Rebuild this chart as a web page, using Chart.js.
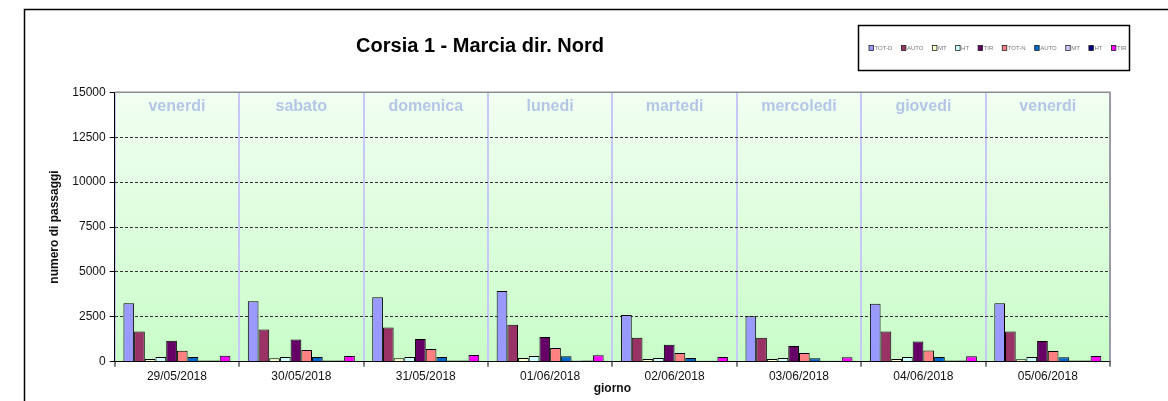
<!DOCTYPE html>
<html>

<head>
    <title>Corsia 1 - Marcia dir. Nord</title>
    <style>
        html, body { margin: 0; padding: 0; background: #fff; }
        #chart-box { width: 1168px; height: 401px; }
    </style>
</head>

<body>
    <div id="chart-box">
        <canvas id="passaggiChart" width="1168" height="401"></canvas>
    </div>

    <script src="https://cdn.jsdelivr.net/npm/chart.js"></script>
    <script type="text/javascript">
        // dates and weekday names
        const giorni = ['29/05/2018', '30/05/2018', '31/05/2018', '01/06/2018', '02/06/2018', '03/06/2018', '04/06/2018', '05/06/2018'];
        const nomiGiorni = ['venerdi', 'sabato', 'domenica', 'lunedi', 'martedi', 'mercoledi', 'giovedi', 'venerdi'];
        const yTicks = [0, 2500, 5000, 7500, 10000, 12500, 15000];

        // daytime counts
        const totD = [3260, 3370, 3590, 3930, 2600, 2530, 3220, 3260];
        const autoD = [1680, 1790, 1900, 2060, 1340, 1340, 1680, 1680];
        const mtD = [150, 190, 190, 210, 150, 150, 150, 140];
        const htD = [260, 260, 260, 320, 210, 210, 260, 260];
        const tirD = [1170, 1230, 1270, 1380, 950, 880, 1120, 1150];

        // night counts
        const totN = [610, 650, 710, 760, 490, 490, 620, 600];
        const autoN = [260, 260, 260, 300, 210, 190, 260, 250];
        const mtN = [60, 60, 60, 70, 50, 50, 60, 60];
        const htN = [60, 60, 60, 60, 50, 50, 60, 60];
        const tirN = [330, 320, 370, 360, 260, 250, 300, 320];

        const FONT = "Arial, 'Liberation Sans', sans-serif";

        function serie(label, data, color) {
            return {
                label: label,
                data: data,
                backgroundColor: color,
                borderColor: '#000',
                borderWidth: 1,
                barPercentage: 1.0,
                categoryPercentage: 0.86
            };
        }

        // background gradient, weekday names, frames, title and boxed legend
        const decorPlugin = {
            id: 'decor',
            beforeDraw(chart) {
                const { ctx, chartArea: a } = chart;
                const g = ctx.createLinearGradient(0, a.top, 0, a.bottom);
                g.addColorStop(0, '#f2fff2');
                g.addColorStop(1, '#c8fcc8');
                ctx.save();
                ctx.fillStyle = g;
                ctx.fillRect(a.left, a.top, a.right - a.left, a.bottom - a.top);
                ctx.restore();
            },
            beforeDatasetsDraw(chart) {
                const { ctx } = chart;
                const x = chart.scales.x;
                ctx.save();
                ctx.font = 'bold 16px ' + FONT;
                ctx.fillStyle = '#b4c6e6';
                ctx.textAlign = 'center';
                ctx.textBaseline = 'middle';
                nomiGiorni.forEach((n, i) => {
                    ctx.fillText(n, x.getPixelForValue(i), 107);
                });
                ctx.restore();
            },
            afterDraw(chart) {
                const { ctx, chartArea: a } = chart;
                ctx.save();
                // plot frame, top and right
                ctx.strokeStyle = '#8c8c8c';
                ctx.lineWidth = 1.5;
                ctx.beginPath();
                ctx.moveTo(a.left, a.top);
                ctx.lineTo(a.right, a.top);
                ctx.lineTo(a.right, a.bottom);
                ctx.stroke();

                // outer frame
                ctx.strokeStyle = '#000';
                ctx.lineWidth = 1.5;
                ctx.beginPath();
                ctx.moveTo(24.5, 402);
                ctx.lineTo(24.5, 9.5);
                ctx.lineTo(1170, 9.5);
                ctx.stroke();

                // title
                ctx.fillStyle = '#000';
                ctx.font = 'bold 20px ' + FONT;
                ctx.textAlign = 'center';
                ctx.textBaseline = 'middle';
                ctx.fillText('Corsia 1 - Marcia dir. Nord', 480, 46);

                // legend box
                ctx.fillStyle = '#fff';
                ctx.fillRect(859, 26, 270, 44);
                ctx.strokeStyle = '#000';
                ctx.lineWidth = 1.5;
                ctx.strokeRect(858.5, 25.5, 271, 45);

                ctx.font = '6px ' + FONT;
                ctx.textAlign = 'left';
                let lx = 869;
                chart.data.datasets.forEach(ds => {
                    ctx.fillStyle = ds.backgroundColor;
                    ctx.fillRect(lx, 45.5, 4.5, 5);
                    ctx.strokeStyle = '#222';
                    ctx.lineWidth = 0.8;
                    ctx.strokeRect(lx, 45.5, 4.5, 5);
                    ctx.fillStyle = '#777';
                    ctx.fillText(ds.label, lx + 5.5, 48.3);
                    lx += 5.5 + ctx.measureText(ds.label).width + 9;
                });
                ctx.restore();
            }
        };

        const ctx = document.getElementById('passaggiChart');
        window.passaggiChart = new Chart(ctx, {
            type: 'bar',
            data: {
                labels: giorni,
                datasets: [
                    serie('TOT-D', totD, '#9999ff'),
                    serie('AUTO', autoD, '#993366'),
                    serie('MT', mtD, '#ffffcc'),
                    serie('HT', htD, '#ccffff'),
                    serie('TIR', tirD, '#660066'),
                    serie('TOT-N', totN, '#ff8080'),
                    serie('AUTO', autoN, '#0066cc'),
                    serie('MT', mtN, '#ccccff'),
                    serie('HT', htN, '#000080'),
                    serie('TIR', tirN, '#ff00ff')
                ]
            },
            options: {
                responsive: false,
                animation: false,
                layout: {
                    padding: { left: 24.7, top: 92.3, right: 58, bottom: 0.3 }
                },
                plugins: {
                    legend: { display: false },
                    title: { display: false },
                    tooltip: { enabled: false }
                },
                scales: {
                    x: {
                        afterFit(scale) { scale.height = 39; },
                        grid: {
                            offset: true,
                            color: '#c8c8f8',
                            lineWidth: 2,
                            tickColor: '#000',
                            tickWidth: 1,
                            tickLength: 5
                        },
                        border: { color: '#000', width: 1 },
                        ticks: {
                            color: '#111',
                            padding: 3,
                            maxRotation: 0,
                            font: { family: FONT, size: 12 }
                        },
                        title: {
                            display: true,
                            text: 'giorno',
                            color: '#111',
                            padding: { top: 0, bottom: 4.5 },
                            font: { family: FONT, size: 12, weight: 'bold' }
                        }
                    },
                    y: {
                        min: yTicks[0],
                        max: yTicks[yTicks.length - 1],
                        afterFit(scale) { scale.width = 90; },
                        afterBuildTicks(scale) {
                            scale.ticks = yTicks.map(v => ({ value: v }));
                        },
                        grid: {
                            color: c => (c.tick && (c.tick.value === yTicks[0] || c.tick.value === yTicks[yTicks.length - 1])) ? 'rgba(0,0,0,0)' : '#333',
                            lineWidth: 1,
                            tickColor: '#000',
                            tickLength: 5,
                            tickBorderDash: []
                        },
                        border: { color: '#000', width: 1, dash: [3, 2] },
                        ticks: {
                            color: '#111',
                            padding: 4,
                            font: { family: FONT, size: 12 },
                            callback: v => String(v)
                        },
                        title: {
                            display: true,
                            text: 'numero di passaggi',
                            color: '#111',
                            padding: { top: 23, bottom: 0 },
                            font: { family: FONT, size: 12, weight: 'bold' }
                        }
                    }
                }
            },
            plugins: [decorPlugin]
        });
    </script>
</body>

</html>
